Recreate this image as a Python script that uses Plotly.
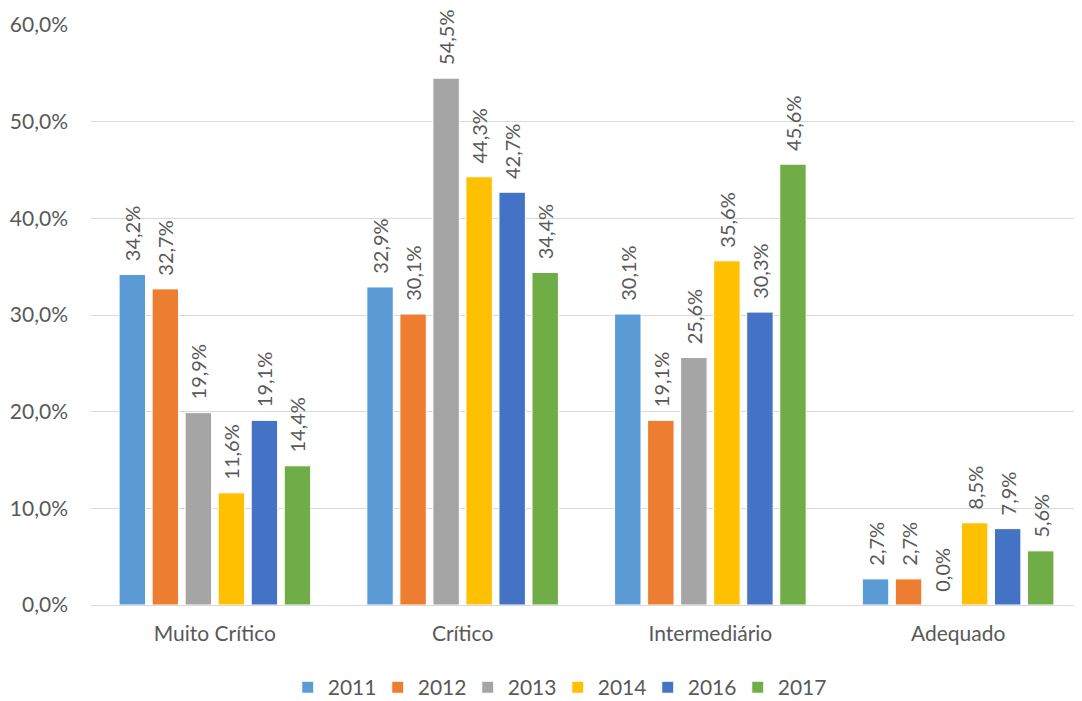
import plotly.graph_objects as go

categories = ["Muito Crítico", "Crítico", "Intermediário", "Adequado"]
years = ["2011", "2012", "2013", "2014", "2016", "2017"]
values = {
    "2011": [34.2, 32.9, 30.1, 2.7],
    "2012": [32.7, 30.1, 19.1, 2.7],
    "2013": [19.9, 54.5, 25.6, 0.0],
    "2014": [11.6, 44.3, 35.6, 8.5],
    "2016": [19.1, 42.7, 30.3, 7.9],
    "2017": [14.4, 34.4, 45.6, 5.6],
}
colors = ["#5B9BD5", "#ED7D31", "#A5A5A5", "#FFC000", "#4472C4", "#70AD47"]

FONT = "Lato, 'Noto Sans', sans-serif"
GREY = "#595959"
PAD = "\u00a0\u00a0"  # small gap between bar top and its label

fig = go.Figure()
for year, color in zip(years, colors):
    vals = values[year]
    fig.add_trace(go.Bar(
        x=categories,
        y=vals,
        name=year,
        marker=dict(color=color, line=dict(color="white", width=1)),
        text=[PAD + f"{v:.1f}%".replace(".", ",") for v in vals],
        textposition="outside",
        textangle=-90,
        textfont=dict(family=FONT, size=20, color=GREY),
        constraintext="none",
        cliponaxis=False,
    ))

# page body has an 8px margin, so the figure is a bit smaller than the window
fig.update_layout(
    width=1074, height=693,
    barmode="group",
    bargap=0.2,
    bargroupgap=0.2,
    plot_bgcolor="white",
    paper_bgcolor="white",
    margin=dict(l=83, r=0, t=17, b=96, autoexpand=False),
    font=dict(family=FONT, size=21, color=GREY),
    legend=dict(
        orientation="h", x=0.471, xanchor="center",
        y=-0.107, yanchor="top",
        font=dict(size=21, color=GREY), itemwidth=30, traceorder="normal",
        entrywidth=45,
    ),
    separators=",.",
)
fig.update_yaxes(
    range=[0, 60], dtick=10, tickformat=".1f", ticksuffix="%",
    showgrid=True, gridcolor="#D9D9D9", gridwidth=1,
    zeroline=False, showline=False, ticks="",
    tickfont=dict(size=21, color=GREY), ticklabelstandoff=22,
    automargin=False,
)
fig.update_xaxes(
    showline=True, linecolor="#D9D9D9", linewidth=1, ticks="",
    tickfont=dict(size=21, color=GREY), ticklabelstandoff=10,
    tickangle=0, automargin=False,
)

fig.write_html("out.html")
